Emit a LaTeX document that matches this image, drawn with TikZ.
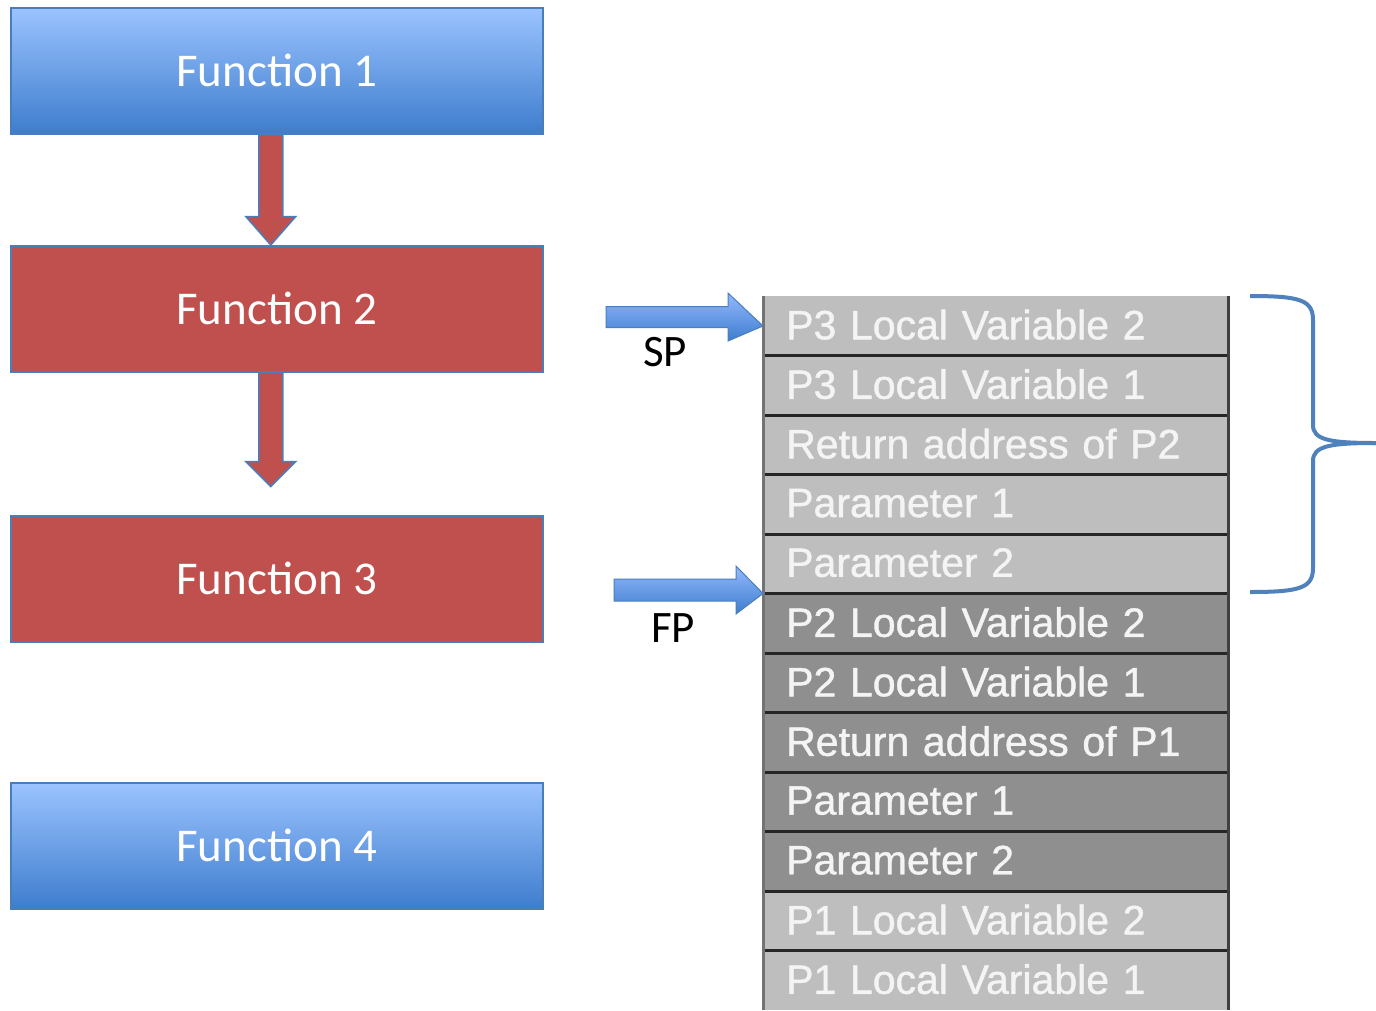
\documentclass[tikz,border=0pt]{standalone}
\usepackage{fontspec}
\setmainfont{Carlito}
\newfontfamily\arialf[FakeBold=1]{Liberation Sans}
\usetikzlibrary{calc}
\definecolor{bluetop}{RGB}{155,195,255}
\definecolor{bluebot}{RGB}{62,125,205}
\definecolor{blueedge}{RGB}{74,126,187}
\definecolor{redfill}{RGB}{192,80,77}
\definecolor{lightrow}{RGB}{190,190,190}
\definecolor{darkrow}{RGB}{143,143,143}
\definecolor{rowtext}{RGB}{244,244,244}
\definecolor{bracec}{RGB}{79,129,189}
\tikzset{
  funcbox/.style={minimum width=532pt, minimum height=126pt, inner sep=0pt, anchor=north west, draw=blueedge, line width=1.5pt, text=white, font=\fontsize{47}{56}\selectfont},
  bluebox/.style={funcbox, top color=bluetop, bottom color=bluebot},
  redbox/.style={funcbox, fill=redfill},
  blockarrow/.style={fill=redfill, draw=blueedge, line width=1.5pt, line join=miter},
  ptrarrow/.style={top color=bluetop!95!blue, bottom color=bluebot, draw=blueedge, line width=1pt},
  ptrlabel/.style={font=\fontsize{45}{52}\selectfont, text=black, inner sep=0pt},
  stackrow/.style={minimum width=465pt, minimum height=59.5pt, inner sep=0pt, anchor=north west, text=rowtext, font=\arialf\fontsize{41}{48}\selectfont, text width=419pt, align=left},
  divider/.style={line width=3pt, draw=black!85},
}
\begin{document}
\begin{tikzpicture}[x=1pt,y=-1pt]
\useasboundingbox (0,0) rectangle (1376,1010);
\fill[white] (0,0) rectangle (1376,1010);
% function boxes
\node[bluebox] (f1) at (10,7) {Function 1};
\node[redbox] (f2) at (10,245) {Function 2};
\node[redbox] (f3) at (10,515) {Function 3};
\node[bluebox] (f4) at (10,782) {Function 4};
% block arrows
\draw[blockarrow] ($(f1.south)+(-18,0)$) -- ($(f1.south)+(6,0)$) -- ($(f1.south)+(6,82)$) -- ($(f1.south)+(19,82)$) -- ($(f2.north)+(-6,0)$) -- ($(f1.south)+(-31,82)$) -- ($(f1.south)+(-18,82)$) -- cycle;
\draw[blockarrow] ($(f2.south)+(-18,0)$) -- ($(f2.south)+(6,0)$) -- ($(f2.south)+(6,89)$) -- ($(f2.south)+(19,89)$) -- ($(f2.south)+(-6,114)$) -- ($(f2.south)+(-31,89)$) -- ($(f2.south)+(-18,89)$) -- cycle;
% stack rows
\foreach \i/\t/\c in {0/P3 Local Variable 2/lightrow, 1/P3 Local Variable 1/lightrow, 2/Return address of P2/lightrow, 3/Parameter 1/lightrow, 4/Parameter 2/lightrow, 5/P2 Local Variable 2/darkrow, 6/P2 Local Variable 1/darkrow, 7/Return address of P1/darkrow, 8/Parameter 1/darkrow, 9/Parameter 2/darkrow, 10/P1 Local Variable 2/lightrow, 11/P1 Local Variable 1/lightrow}{
  \node[stackrow, fill=\c] (r\i) at (763,296+59.5*\i) {\raisebox{3pt}{\t}};
}
\foreach \i in {1,...,11}{
  \draw[divider] (r\i.north west) -- (r\i.north east);
}
\draw[line width=3pt, draw=black!55] (r0.north west) -- (r11.south west);
\draw[line width=3pt, draw=black!75] (r0.north east) -- (r11.south east);
% SP / FP pointers
\coordinate (sptail) at (606,317);
\draw[ptrarrow] ($(sptail)+(0,-10.5)$) -- ($(sptail)+(122,-10.5)$) -- ($(sptail)+(122,-24)$) -- (r0.west) -- ($(sptail)+(122,24)$) -- ($(sptail)+(122,10.5)$) -- ($(sptail)+(0,10.5)$) -- cycle;
\node[ptrlabel] (sp) at (665,352) {SP};
\coordinate (fptail) at (614,590);
\draw[ptrarrow] ($(fptail)+(0,-11)$) -- ($(fptail)+(122,-11)$) -- ($(fptail)+(122,-24)$) -- (r5.north west) -- ($(fptail)+(122,24)$) -- ($(fptail)+(122,11)$) -- ($(fptail)+(0,11)$) -- cycle;
\node[ptrlabel] (fp) at (673,628) {FP};
% brace
\coordinate (bt) at (1250,296);
\coordinate (bb) at (1250,592);
\coordinate (btip) at (1376,443);
\draw[draw=bracec, line width=4pt]
  (bt) .. controls (1300,296) and (1313,300) .. (1313,320)
  -- (1313,425) .. controls (1313,440) and (1330,443) .. (btip);
\draw[draw=bracec, line width=4pt]
  (btip) .. controls (1330,443) and (1313,446) .. (1313,461)
  -- (1313,568) .. controls (1313,588) and (1300,592) .. (bb);
\end{tikzpicture}
\end{document}
